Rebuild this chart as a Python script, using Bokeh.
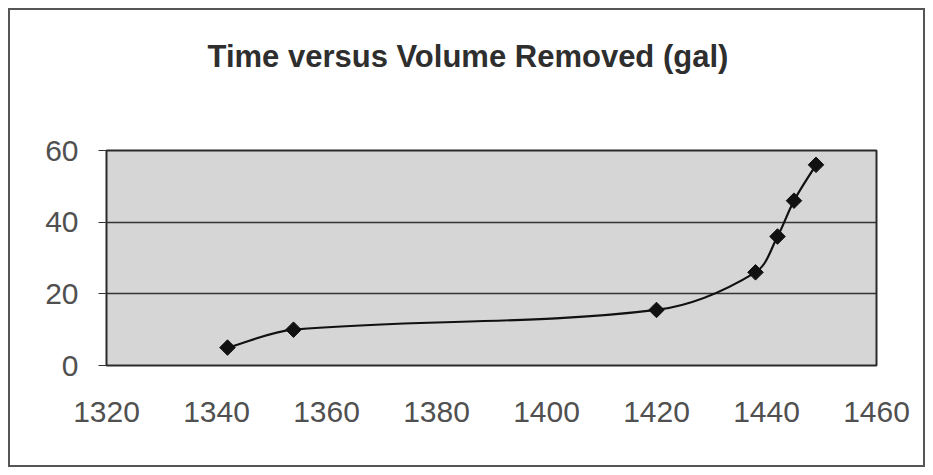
import numpy as np
from bokeh.plotting import figure
from bokeh.models import Range1d, FixedTicker, ColumnDataSource, Title
from bokeh.embed import file_html
from bokeh.resources import INLINE

# ---- data ----
time_min = [1342, 1354, 1420, 1438, 1442, 1445, 1449]
volume_gal = [5, 10, 15.5, 26, 36, 46, 56]
x_ticks = [1320, 1340, 1360, 1380, 1400, 1420, 1440, 1460]
y_ticks = [0, 20, 40, 60]
grid_lines = [20, 40]
title_text = "Time versus Volume Removed (gal)"

FONT = "Liberation Sans"
W, H = 933, 475
ML, MT, MR, MB = 106, 150, 57, 110
X0, X1, Y0, Y1 = 1320, 1460, 0, 60

p = figure(width=W, height=H,
           x_range=Range1d(X0, X1), y_range=Range1d(Y0, Y1),
           output_backend="svg", toolbar_location=None,
           min_border_left=ML, min_border_right=MR,
           min_border_top=MT, min_border_bottom=MB,
           title=title_text)

# outer chart-area border (white band then dark line), painted behind a transparent canvas
p.styles = {"background-color": "white",
            "box-shadow": "inset 0 0 0 8px #ffffff, inset 0 0 0 10px #555555"}

p.title.align = "left"
p.title.offset = 101
p.title.text_font = FONT
p.title.text_font_size = "31px"
p.title.text_font_style = "bold"
p.title.text_color = "#2e2e2e"
p.title.standoff = 0

# blank spacer between the title and the plot frame
p.add_layout(Title(text=" ", text_font_size="1px", standoff=74), "above")

p.background_fill_color = "#d6d6d6"
p.border_fill_color = None
p.outline_line_color = "#2a2a2a"
p.outline_line_width = 2

p.xgrid.visible = False
p.ygrid.ticker = FixedTicker(ticks=grid_lines)
p.ygrid.grid_line_color = "#333333"
p.ygrid.grid_line_width = 1.3

p.yaxis.ticker = FixedTicker(ticks=y_ticks)
p.yaxis.axis_line_color = None
p.yaxis.major_tick_in = 0
p.yaxis.major_tick_out = 8
p.yaxis.major_tick_line_color = "#333333"
p.yaxis.minor_tick_line_color = None
p.yaxis.major_label_standoff = 20

p.xaxis.ticker = FixedTicker(ticks=x_ticks)
p.xaxis.axis_line_color = None
p.xaxis.major_tick_in = 0
p.xaxis.major_tick_out = 0
p.xaxis.minor_tick_line_color = None
p.xaxis.major_label_standoff = 36

for ax in (p.xaxis, p.yaxis):
    ax.major_label_text_font = FONT
    ax.major_label_text_font_size = "30px"
    ax.major_label_text_color = "#505050"

# pixel scale factors (frame size / data span), used for curve smoothing weights
sx = (W - ML - MR) / (X1 - X0)
sy = (H - MT - MB) / (Y1 - Y0)

# smoothed line: length-weighted cubic bezier through the data points
xs = np.array(time_min, dtype=float)
ys = np.array(volume_gal, dtype=float)
n = len(xs)
L = np.hypot(np.diff(xs) * sx, np.diff(ys) * sy)  # segment lengths in pixels
Tx = np.zeros(n); Ty = np.zeros(n)
wl = np.zeros(n); wr = np.zeros(n)
for i in range(n):
    a = max(i - 1, 0); b = min(i + 1, n - 1)
    Tx[i] = xs[b] - xs[a]; Ty[i] = ys[b] - ys[a]
    Lp = L[i - 1] if i > 0 else 0.0
    Ln = L[i] if i < n - 1 else 0.0
    tot = Lp + Ln
    wl[i] = Lp / tot / 3
    wr[i] = Ln / tot / 3
seg = dict(x0=xs[:-1], y0=ys[:-1], x1=xs[1:], y1=ys[1:],
           cx0=xs[:-1] + Tx[:-1] * wr[:-1], cy0=ys[:-1] + Ty[:-1] * wr[:-1],
           cx1=xs[1:] - Tx[1:] * wl[1:], cy1=ys[1:] - Ty[1:] * wl[1:])
p.bezier(source=ColumnDataSource(seg), x0="x0", y0="y0", x1="x1", y1="y1",
         cx0="cx0", cy0="cy0", cx1="cx1", cy1="cy1",
         line_color="#111111", line_width=2.2)

p.scatter(time_min, volume_gal, marker="square", angle=np.pi / 4, size=11,
          fill_color="#111111", line_color="#111111")

open("out.html", "w").write(file_html(p, INLINE))
